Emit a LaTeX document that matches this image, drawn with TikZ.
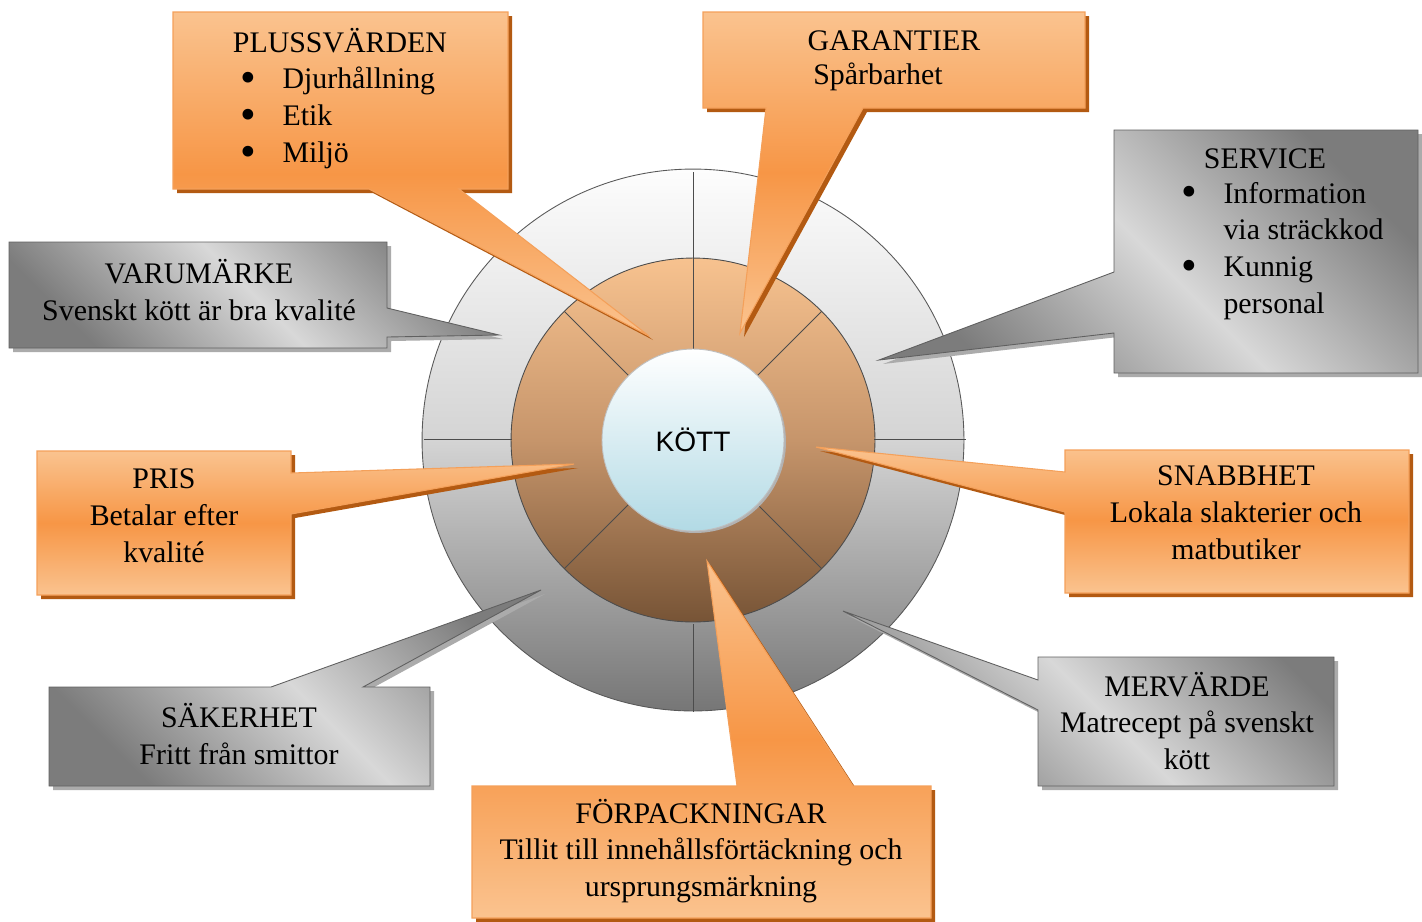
\documentclass[tikz,border=0pt]{standalone}
\usepackage{fontspec}
\usepackage{graphicx}
\setmainfont{Liberation Serif}
\newfontfamily\kottfont{Liberation Sans}

\definecolor{olight}{HTML}{FAC38F}
\definecolor{odark}{HTML}{F79646}
\definecolor{oline}{HTML}{F4A05A}
\definecolor{oshade}{HTML}{B35A12}
\definecolor{glight}{HTML}{D8D8D8}
\definecolor{gdark}{HTML}{7C7C7C}
\definecolor{gline}{HTML}{606060}
\definecolor{gshade}{HTML}{ABABAB}
\definecolor{ringtop}{HTML}{FDFDFD}
\definecolor{ringmid}{HTML}{D4D4D4}
\definecolor{ringbot}{HTML}{767676}
\definecolor{brtop}{HTML}{F7C28F}
\definecolor{brmid}{HTML}{C6956B}
\definecolor{brbot}{HTML}{775436}
\definecolor{blbot}{HTML}{B2DAE5}

% callout: shadow first, then the shaded shape
\newcommand{\bubble}[3]{%
  \fill[#2, shift={(4,4)}] #3;
  \path[#1] #3;}
\newcommand{\blt}{\makebox[24pt][l]{\smash{\raisebox{-2.2pt}{\scalebox{1.5}{\textbullet}}}}}

\begin{document}
\begin{tikzpicture}
  [x=0.02cm, y=-0.02cm,
    orangebox/.style={draw=oline, line width=0.6pt, top color=olight, bottom color=olight, middle color=odark},
    graybox/.style={draw=gline, line width=0.5pt, left color=gdark, right color=gdark, middle color=glight, shading angle=-45},
    oshadow/.style={fill=oshade},
    gshadow/.style={fill=gshade},
    divider/.style={draw=black!70, line width=0.5pt},
    txt/.style={font=\fontsize{17}{21}\selectfont, align=center, inner sep=0pt},
    lst/.style={font=\fontsize{17}{21}\selectfont, align=left, inner sep=0pt, anchor=west},
  ]
  \useasboundingbox (0,0) rectangle (1422,921);

  % rings
  \coordinate (c) at (693,440);
  \path[draw=black!65, line width=0.5pt, top color=ringtop, bottom color=ringbot, middle color=ringmid]
    (c) circle[radius=5.42cm];
  \draw[divider] (693,624) -- (693,712);
  \path[draw=black!70, line width=0.5pt, top color=brtop, bottom color=brbot, middle color=brmid]
    (c) circle[radius=3.64cm];
  \draw[divider] (693,172) -- (693,349);
  \draw[divider] (424,439) -- (512,439);
  \draw[divider] (874,439) -- (966,439);
  \foreach \a in {45,135,225,315}
    \draw[divider] (c) ++(\a:1.82cm) -- ++(\a:1.82cm);
  \fill[black!30] ([shift={(2,2)}]c) circle[radius=1.82cm];
  \node[circle, minimum size=3.64cm, inner sep=0pt, draw=black!25, line width=0.5pt,
    top color=white, bottom color=blbot, font=\kottfont\fontsize{16}{19}\selectfont] (kott) at (c) {KÖTT};

  % callouts
  \bubble{orangebox}{oshadow}{(173,12) -- (508,12) -- (508,189) -- (459,189) -- (649,336) -- (369,189) -- (173,189) -- cycle}
  \bubble{orangebox}{oshadow}{(703,12) -- (1085,12) -- (1085,108) -- (863,108) -- (740,333) -- (766,108) -- (703,108) -- cycle}
  \bubble{graybox}{gshadow}{(1114,130) -- (1418,130) -- (1418,373) -- (1114,373) -- (1114,333) -- (879,360) -- (1114,272) -- cycle}
  \bubble{graybox}{gshadow}{(9,242) -- (387,242) -- (387,308) -- (499,335) -- (387,337) -- (387,348) -- (9,348) -- cycle}
  \bubble{orangebox}{oshadow}{(37,451) -- (291,451) -- (291,473) -- (574,464) -- (291,514) -- (291,595) -- (37,595) -- cycle}
  \bubble{orangebox}{oshadow}{(1065,450) -- (1409,450) -- (1409,593) -- (1065,593) -- (1065,512) -- (816,447) -- (1065,472) -- cycle}
  \bubble{graybox}{gshadow}{(49,687) -- (271,687) -- (541,590) -- (363,687) -- (430,687) -- (430,786) -- (49,786) -- cycle}
  \bubble{graybox}{gshadow}{(1038,657) -- (1334,657) -- (1334,786) -- (1038,786) -- (1038,710) -- (843,611) -- (1038,680) -- cycle}
  \bubble{orangebox}{oshadow}{(472,786) -- (737,786) -- (707,561) -- (853,786) -- (931,786) -- (931,918) -- (472,918) -- cycle}

  % texts
  \node[txt] (plust) at (340,41) {PLUSSVÄRDEN};
  \node[lst] (plusl) at (240,118) {\blt Djurhållning\\\blt Etik\\\blt Miljö};
  \node[txt] (garant) at (894,41) {GARANTIER};
  \node[txt] (garants) at (878,77) {Spårbarhet};
  \node[txt] (servt) at (1265,159) {SERVICE};
  \node[lst] (servl) at (1181,251) {\blt Information\\\hspace*{24pt}via sträckkod\\\blt Kunnig\\\hspace*{24pt}personal};
  \node[txt] (varu) at (199,290) {VARUMÄRKE\\Svenskt kött är bra kvalité};
  \node[txt] (pris) at (164,516) {PRIS\\Betalar efter\\kvalité};
  \node[txt] (snabb) at (1236,513) {SNABBHET\\Lokala slakterier och\\matbutiker};
  \node[txt] (saker) at (239,734) {SÄKERHET\\Fritt från smittor};
  \node[txt] (merv) at (1187,721) {MERVÄRDE\\Matrecept på svenskt\\kött};
  \node[txt] (forp) at (701,851) {FÖRPACKNINGAR\\Tillit till innehållsförtäckning och\\ursprungsmärkning};
\end{tikzpicture}
\end{document}
